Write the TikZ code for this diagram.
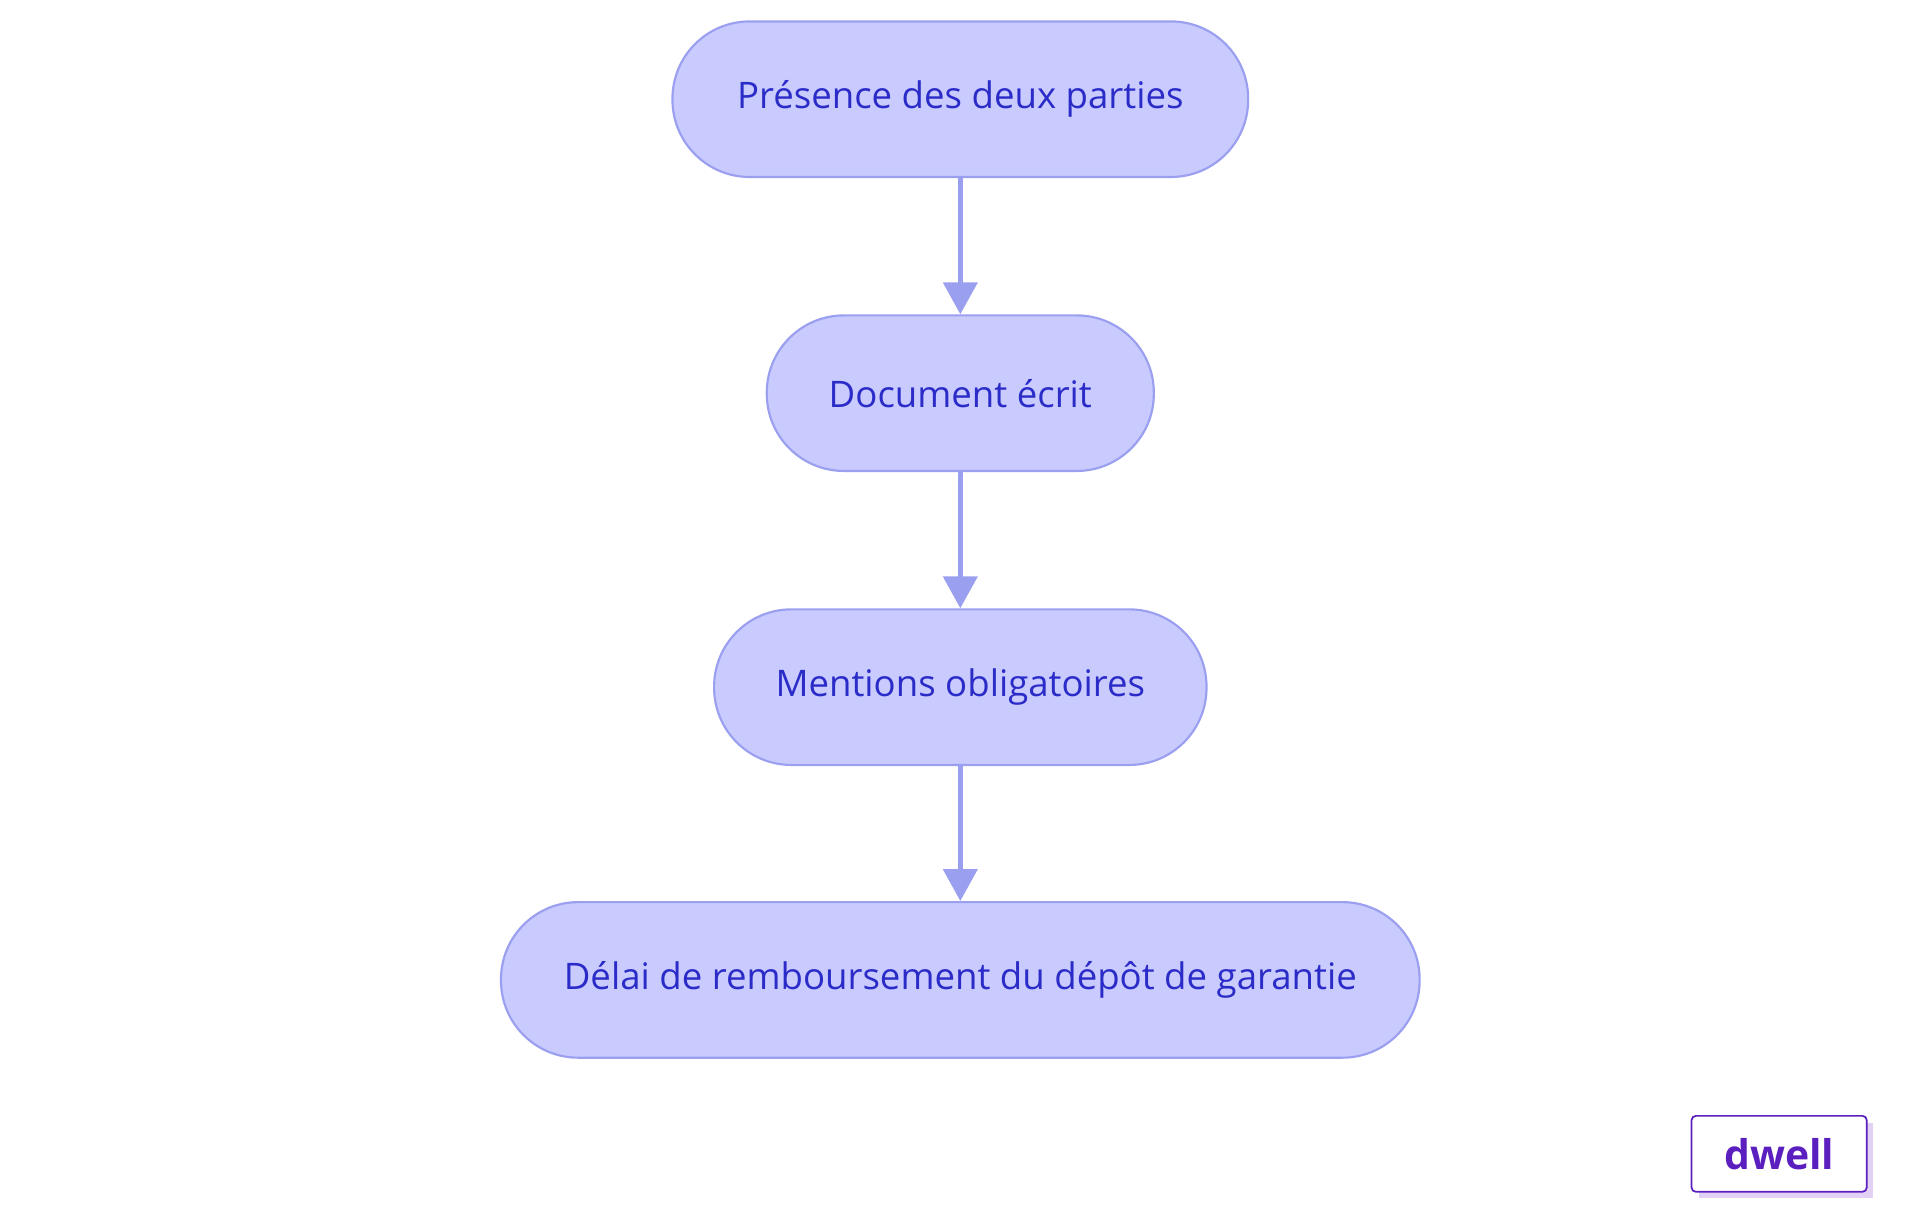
\documentclass[tikz,border=0pt]{standalone}
\usepackage{fontspec}
\setmainfont{Open Sans}
\usetikzlibrary{positioning, arrows.meta}

\definecolor{boxfill}{HTML}{C9CBFF}
\definecolor{boxline}{HTML}{9A9FF0}
\definecolor{boxtext}{HTML}{2B2BC8}
\definecolor{logotext}{HTML}{5B1FC0}
\definecolor{logoshade}{HTML}{E3D0F5}

\tikzset{
	stage/.style = {draw = boxline, fill = boxfill, line width = 1pt, rounded corners = 1.26cm,
		minimum height = 2.54cm, text = boxtext, font = \fontsize{17}{20}\selectfont, inner xsep = 0pt},
	link/.style = {draw = boxline, line width = 2.3pt, -{Triangle[length = 0.52cm, width = 0.55cm]}}
}

\begin{document}
\begin{tikzpicture}

	% Canvas
	\useasboundingbox (0, 0) rectangle (31.35, -19.84);

	% Stages
	\node [stage, minimum width = 9.4cm] (presence) at (15.68, -1.62) {Présence des deux parties};
	\node [stage, minimum width = 6.32cm] (ecrit) at (15.68, -6.42) {Document écrit};
	\node [stage, minimum width = 8.04cm] (mentions) at (15.68, -11.22) {Mentions obligatoires};
	\node [stage, minimum width = 15cm] (delai) at (15.68, -16.0) {Délai de remboursement du dépôt de garantie};

	% Links
	\draw [link] (presence) -- (ecrit);
	\draw [link] (ecrit) -- (mentions);
	\draw [link] (mentions) -- (delai);

	% Logo
	\fill [logoshade] (27.74, -18.34) rectangle (30.58, -19.56);
	\node [draw = logotext, fill = white, line width = 0.8pt, rounded corners = 2pt,
		minimum width = 2.86cm, minimum height = 1.24cm, text = logotext,
		font = \fontsize{19}{22}\selectfont\bfseries] (logo) at (29.05, -18.84) {dwell};

\end{tikzpicture}
\end{document}
